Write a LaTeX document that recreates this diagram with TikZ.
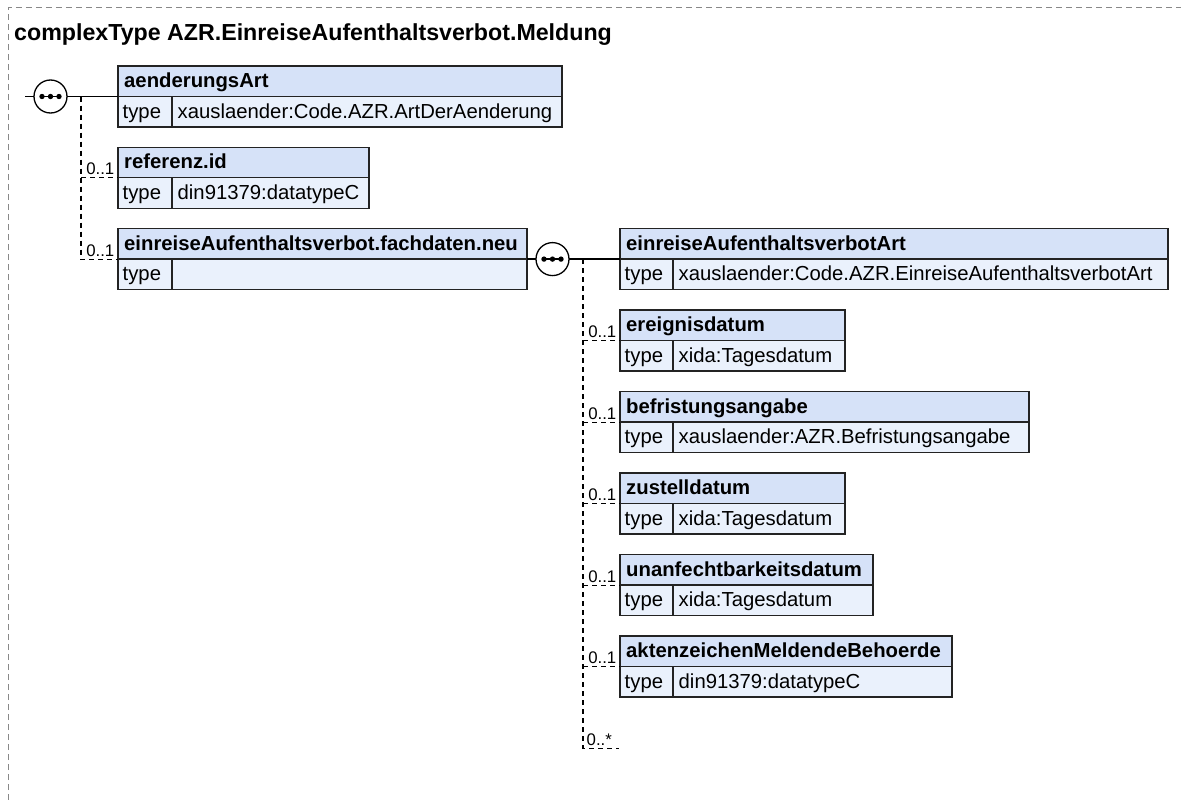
\documentclass[tikz,border=0pt]{standalone}
\usepackage{fontspec}
\setmainfont{Liberation Sans}
\usetikzlibrary{calc}
\definecolor{hdrc}{RGB}{214,226,248}
\definecolor{typc}{RGB}{234,241,252}
\definecolor{bordc}{RGB}{35,35,35}
\definecolor{framec}{RGB}{136,136,136}
\tikzset{
  hdr/.style={draw=bordc, fill=hdrc, line width=1.3pt, inner sep=0pt, outer sep=0pt, anchor=north west, minimum height=30.5pt},
  typ/.style={draw=bordc, fill=typc, line width=1.3pt, inner sep=0pt, outer sep=0pt, anchor=north west, minimum height=30.5pt},
  nm/.style={font=\fontsize{20.3}{24}\selectfont\bfseries, inner sep=0pt, anchor=base west},
  tx/.style={font=\fontsize{20.3}{24}\selectfont, inner sep=0pt, anchor=base west},
  ttl/.style={font=\fontsize{23.2}{28}\selectfont\bfseries, inner sep=0pt, anchor=base west},
  mult/.style={font=\fontsize{16.8}{20}\selectfont, inner sep=0pt, anchor=base east},
  conn/.style={line width=1.2pt, dash pattern=on 5pt off 4pt},
  wire/.style={line width=1.3pt},
  comp/.style={circle, draw, fill=white, line width=1.3pt, minimum size=33pt, inner sep=0pt, outer sep=0pt},
  framel/.style={draw=framec, line width=1pt, dash pattern=on 6pt off 4pt}
}
% #1 id, #2 x, #3 top, #4 right, #5 type separator x, #6 name, #7 type value
\newcommand\xelem[7]{%
  \node[hdr, minimum width={(#4-#2)*1pt}] (#1) at (#2,#3) {};
  \node[typ, minimum width={(#4-#2)*1pt}] (#1-t) at (#2,#3+30.5) {};
  \draw[draw=bordc, line width=1.3pt] (#1-t.north west -| #5,0) -- (#1-t.south west -| #5,0);
  \node[nm] (#1-n) at (#2+6,#3+21.5) {#6};
  \node[tx] (#1-k) at (#2+4.5,#3+52) {type};
  \node[tx] (#1-v) at (#5+5.5,#3+52) {#7};
}
\newcommand\xcomp[3]{%
  \node[comp] (#1) at (#2,#3) {};
  \draw[line width=1.3pt] ($(#1)+(-10,0)$) -- ($(#1)+(10,0)$);
  \foreach \d in {-8.5,0,8.5} \fill ($(#1)+(\d,0)$) circle[radius=2.7pt];
}
\begin{document}
\begin{tikzpicture}[x=1pt,y=-1pt]
\useasboundingbox (0,0) rectangle (1181,800);
% frame
\coordinate (fA) at (8,800);
\coordinate (fB) at (8,8);
\coordinate (fC) at (1181,8);
\draw[framel] (fA) -- (fB) -- (fC);
\node[ttl] (title) at (14,41) {complexType AZR.EinreiseAufenthaltsverbot.Meldung};

% left elements
\xelem{aend}{118}{66}{562}{172}{aenderungsArt}{xauslaender:Code.AZR.ArtDerAenderung}
\xelem{ref}{118}{147.3}{369}{172}{referenz.id}{din91379:datatypeC}
\xelem{fach}{118}{228.6}{527}{172}{einreiseAufenthaltsverbot.fachdaten.neu}{}

% right elements
\xelem{art}{620}{228.6}{1168}{673}{einreiseAufenthaltsverbotArt}{xauslaender:Code.AZR.EinreiseAufenthaltsverbotArt}
\xelem{ereig}{620}{310.1}{845}{673}{ereignisdatum}{xida:Tagesdatum}
\xelem{befr}{620}{391.6}{1029}{673}{befristungsangabe}{xauslaender:AZR.Befristungsangabe}
\xelem{zust}{620}{473.1}{845}{673}{zustelldatum}{xida:Tagesdatum}
\xelem{unan}{620}{554.6}{873}{673}{unanfechtbarkeitsdatum}{xida:Tagesdatum}
\xelem{akt}{620}{636.1}{952}{673}{aktenzeichenMeldendeBehoerde}{din91379:datatypeC}

% compositor 1
\coordinate (in1) at (25,96.5);
\coordinate (v1) at (81,96.5);
\draw[conn] (v1) -- (v1 |- fach.south west) -- (fach.south west);
\draw[conn] (v1 |- ref.south west) -- (ref.south west);
\draw[wire] (in1) -- (aend.south west);
\xcomp{s1}{50.5}{96.5}

% compositor 2
\coordinate (v2) at (583,259.1);
\coordinate (anyend) at (619,748.1);
\draw[conn] (v2) -- (v2 |- anyend) -- (anyend);
\foreach \e in {ereig,befr,zust,unan,akt}
  \draw[conn] (v2 |- \e.south west) -- (\e.south west);
\draw[wire] (fach.south east) -- (art.south west);
\xcomp{s2}{552.5}{259.1}

% multiplicities
\node[mult] (m-ref) at ($(ref.south west)+(-3.5,-3)$) {0..1};
\node[mult] (m-fach) at ($(fach.south west)+(-3.5,-3)$) {0..1};
\foreach \e in {ereig,befr,zust,unan,akt}
  \node[mult] (m-\e) at ($(\e.south west)+(-3.5,-3)$) {0..1};
\node[mult, anchor=base west] (m-any) at (586.5,745.5) {0..*};
\end{tikzpicture}
\end{document}
